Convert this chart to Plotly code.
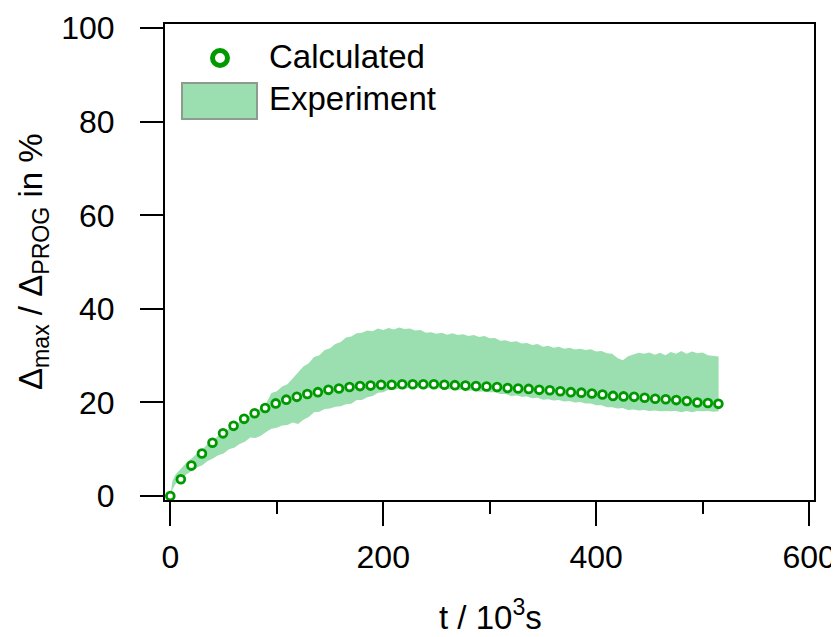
import plotly.graph_objects as go

# ---- Data ----
calc_t = [0.0, 9.9, 19.8, 29.7, 39.6, 49.5, 59.4, 69.3, 79.2, 89.1, 99.0, 108.9, 118.8,
          128.7, 138.6, 148.5, 158.4, 168.3, 178.2, 188.1, 198.0, 207.9, 217.8, 227.7,
          237.6, 247.5, 257.4, 267.3, 277.2, 287.1, 297.0, 306.9, 316.8, 326.7, 336.6,
          346.5, 356.4, 366.3, 376.2, 386.1, 396.0, 405.9, 415.8, 425.7, 435.6, 445.5,
          455.4, 465.3, 475.2, 485.1, 495.0, 504.9, 514.8]
calc_v = [0.0, 3.6, 6.5, 9.1, 11.4, 13.4, 15.0, 16.5, 17.7, 18.8, 19.8, 20.6, 21.2,
          21.8, 22.2, 22.7, 23.0, 23.3, 23.5, 23.6, 23.8, 23.8, 23.9, 23.9, 23.9, 23.9,
          23.8, 23.7, 23.6, 23.5, 23.4, 23.3, 23.1, 23.0, 22.9, 22.7, 22.6, 22.4, 22.2,
          22.1, 21.9, 21.7, 21.4, 21.3, 21.2, 21.0, 20.8, 20.7, 20.5, 20.3, 20.0, 19.9,
          19.7]

exp_t = [0, 2, 5, 10, 15, 20, 25, 30, 35, 40, 45, 50, 55, 60, 65, 70, 75, 80, 85, 90, 95,
         100, 105, 110, 115, 120, 125, 130, 135, 140, 145, 150, 155, 160, 165, 170, 175,
         180, 185, 190, 195, 200, 205, 210, 215, 220, 225, 230, 235, 240, 245, 250, 255,
         260, 265, 270, 275, 280, 285, 290, 295, 300, 305, 310, 315, 320, 325, 330, 335,
         340, 345, 350, 355, 360, 365, 370, 375, 380, 385, 390, 395, 400, 405, 410, 415,
         420, 425, 430, 435, 440, 445, 450, 455, 460, 465, 470, 475, 480, 485, 490, 495,
         500, 505, 510, 515]
exp_upper = [0.0, 3.2, 4.6, 5.9, 7.1, 8.0, 9.1, 9.9, 11.1, 11.8, 12.9, 13.5, 14.4, 14.9,
             15.9, 16.4, 17.3, 17.7, 18.9, 19.8, 22.0, 22.4, 23.4, 23.9, 25.2, 26.3, 27.7,
             28.4, 29.7, 30.1, 31.2, 31.6, 32.5, 32.9, 33.9, 34.1, 34.8, 34.9, 35.4, 35.2,
             35.8, 35.5, 35.9, 35.6, 36.0, 35.7, 35.8, 35.4, 35.5, 34.9, 35.0, 34.7, 34.9,
             34.5, 34.8, 34.4, 34.6, 34.2, 34.4, 34.0, 34.2, 33.7, 33.8, 33.2, 33.3, 32.9,
             33.1, 32.6, 32.7, 32.3, 32.5, 31.9, 32.1, 31.7, 31.9, 31.5, 31.7, 31.3, 31.5,
             31.2, 31.4, 30.9, 31.0, 30.5, 30.4, 29.5, 29.0, 29.9, 30.3, 30.6, 30.4, 30.7,
             30.2, 30.6, 30.1, 30.8, 30.4, 31.0, 30.4, 30.9, 30.5, 30.7, 30.1, 30.0, 29.8]
exp_lower = [0.0, 1.4, 2.6, 3.4, 4.6, 5.3, 6.1, 6.6, 7.5, 8.0, 8.7, 9.1, 10.0, 10.3, 11.1,
             11.6, 12.5, 12.4, 12.9, 13.7, 14.4, 14.6, 15.1, 15.2, 15.7, 15.4, 16.3, 16.9,
             17.9, 18.0, 18.6, 18.7, 19.1, 19.2, 19.6, 19.7, 20.5, 20.5, 21.1, 21.4, 22.1,
             22.2, 22.7, 22.7, 23.0, 22.9, 23.2, 23.0, 23.2, 23.0, 23.2, 23.0, 23.1, 22.8,
             22.9, 22.6, 22.8, 22.5, 22.6, 22.3, 22.4, 22.2, 22.2, 21.8, 21.8, 21.4, 21.5,
             21.2, 21.3, 20.9, 21.0, 20.6, 20.7, 20.4, 20.5, 20.2, 20.3, 20.0, 20.1, 19.8,
             19.8, 19.4, 19.4, 19.0, 19.0, 18.7, 18.8, 18.4, 18.5, 18.3, 18.4, 18.2, 18.3,
             18.1, 18.2, 18.1, 18.2, 17.9, 18.2, 17.9, 18.2, 18.1, 18.2, 18.0, 18.1]

x_ticks = [0, 200, 400, 600]
y_ticks = [0, 20, 40, 60, 80, 100]
x_title = "t / 10<sup>3</sup>s"
y_title = "Δ<sub>max</sub> / Δ<sub>PROG</sub> in %"

BAND = "rgb(155,222,176)"
GREEN = "#009900"
FONT = "Liberation Sans, Arial, sans-serif"

# page body has an 8px margin; figure is sized so that it fills the 839x637 window
OFF = 8
W, H = 839 - OFF, 637 - OFF
ML, MR, MT, MB = 165 - OFF, 25, 24 - OFF, 137
PW, PH = W - ML - MR, H - MT - MB


def px(x):
    # x in window pixels -> paper fraction
    return (x - OFF - ML) / PW


def py(y):
    # y in window pixels -> paper fraction
    return (H - MB - (y - OFF)) / PH


fig = go.Figure()
fig.add_trace(go.Scatter(x=exp_t, y=exp_lower, mode="lines", line=dict(width=0),
                         showlegend=False, hoverinfo="skip"))
fig.add_trace(go.Scatter(x=exp_t, y=exp_upper, mode="lines", line=dict(width=0),
                         fill="tonexty", fillcolor=BAND, name="Experiment",
                         showlegend=False))
fig.add_trace(go.Scatter(x=calc_t, y=calc_v, mode="markers", name="Calculated",
                         marker=dict(symbol="circle", size=7.8, color="white",
                                     line=dict(color=GREEN, width=2.8)),
                         showlegend=False))

# manual legend
fig.add_shape(type="circle", xref="paper", yref="paper",
              x0=px(212.5), x1=px(227.5), y0=py(65.5), y1=py(50.5),
              line=dict(color=GREEN, width=5), fillcolor="white")
fig.add_shape(type="rect", xref="paper", yref="paper",
              x0=px(182), x1=px(257), y0=py(119), y1=py(83),
              line=dict(color="#8c9c8e", width=2), fillcolor=BAND)
fig.add_annotation(text="Calculated", xref="paper", yref="paper", x=px(267), y=py(57),
                   xanchor="left", yanchor="middle", showarrow=False,
                   font=dict(family=FONT, size=33, color="black"))
fig.add_annotation(text="Experiment", xref="paper", yref="paper", x=px(267), y=py(98),
                   xanchor="left", yanchor="middle", showarrow=False,
                   font=dict(family=FONT, size=33, color="black"))

# axis titles
fig.add_annotation(text=x_title, xref="paper", yref="paper", x=px(490), y=py(615),
                   xanchor="center", yanchor="middle", showarrow=False,
                   font=dict(family=FONT, size=33, color="black"))
fig.add_annotation(text=y_title, xref="paper", yref="paper", x=px(33), y=py(262),
                   xanchor="center", yanchor="middle", showarrow=False, textangle=-90,
                   font=dict(family=FONT, size=33, color="black"))

fig.update_layout(
    width=W, height=H,
    margin=dict(l=ML, r=MR, t=MT, b=MB),
    paper_bgcolor="white", plot_bgcolor="white",
    font=dict(family=FONT, color="black"),
)
fig.update_xaxes(
    range=[-5, 604.6], tickvals=x_ticks, ticks="outside", ticklen=24, tickwidth=2,
    tickcolor="black", showline=True, linewidth=2, linecolor="black", mirror=True,
    showgrid=False, zeroline=False, tickfont=dict(size=32), ticklabelstandoff=4,
    automargin=False,
    minor=dict(tickvals=[100, 300, 500], ticks="outside", ticklen=12, tickwidth=2,
               tickcolor="black", showgrid=False),
)
fig.update_yaxes(
    range=[-0.85, 100.9], tickvals=y_ticks, ticks="outside", ticklen=23, tickwidth=2,
    tickcolor="black", showline=True, linewidth=2, linecolor="black", mirror=True,
    showgrid=False, zeroline=False, tickfont=dict(size=32), ticklabelstandoff=19,
    automargin=False,
)

fig.write_html("out.html")
